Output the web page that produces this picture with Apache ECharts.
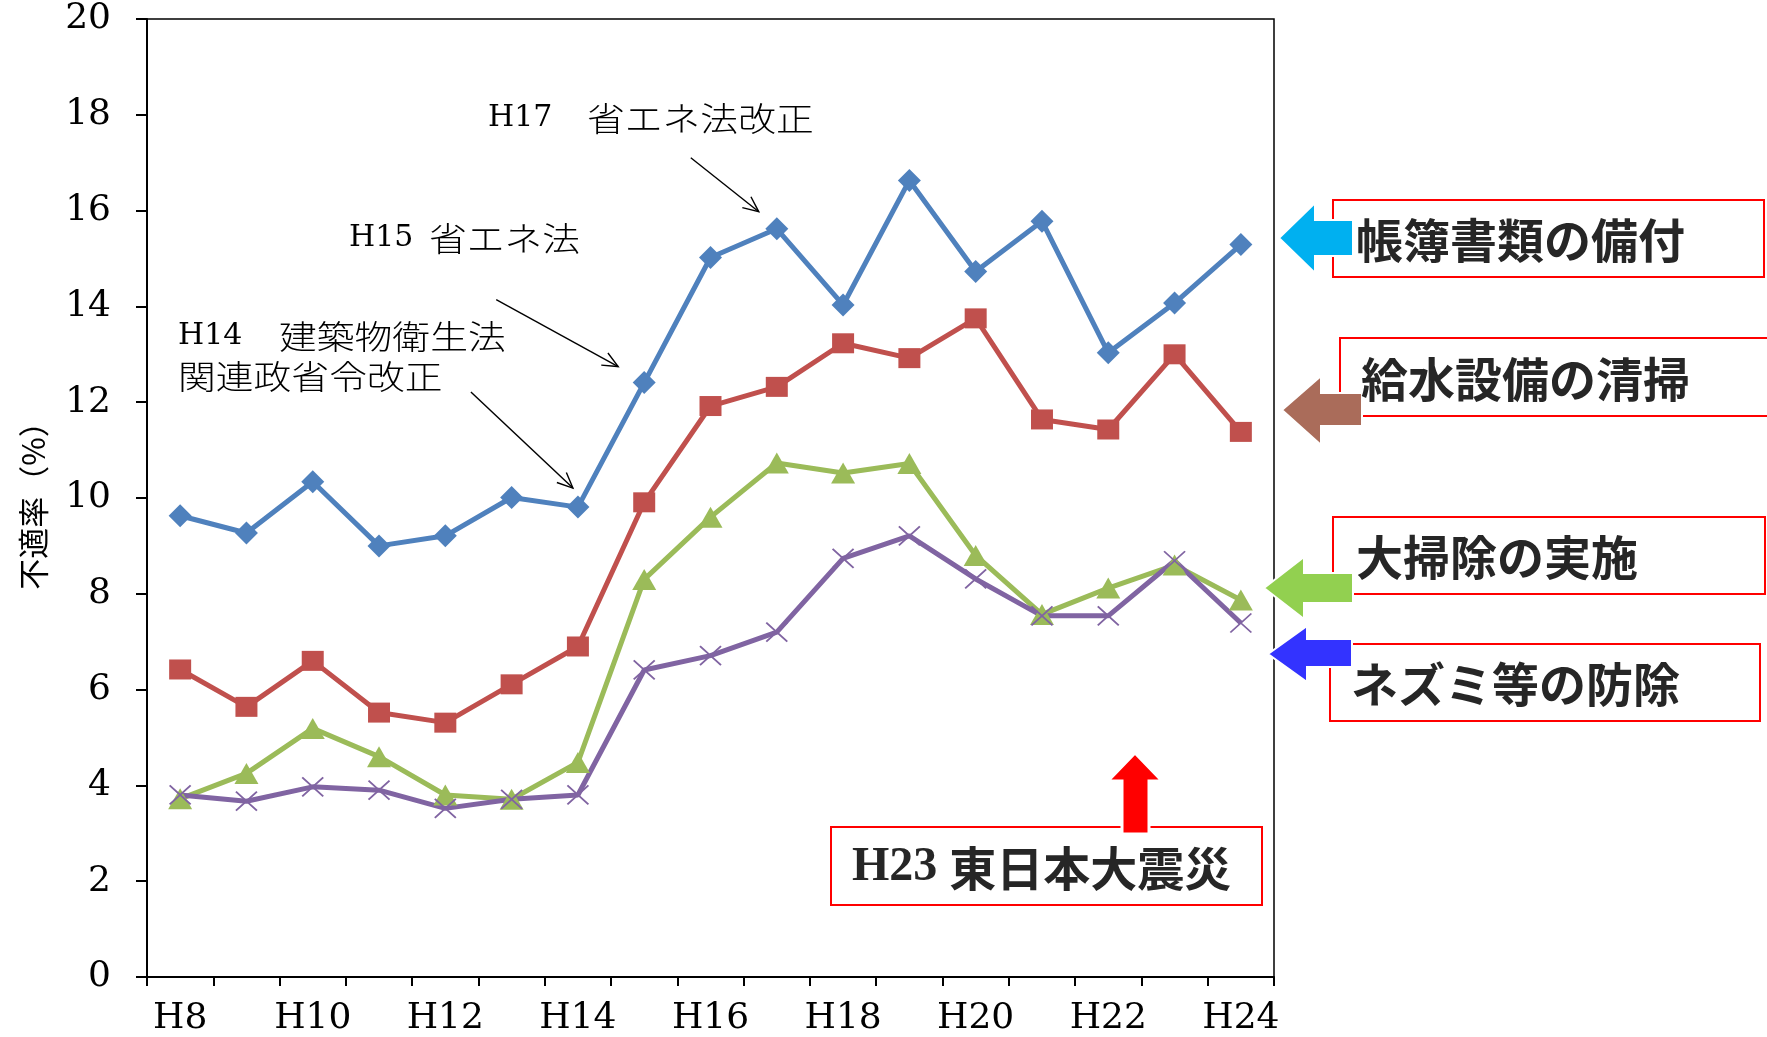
<!DOCTYPE html>
<html>
<head>
<meta charset="utf-8">
<title>不適率の推移</title>
<script src="https://cdn.jsdelivr.net/npm/echarts@6/dist/echarts.min.js"></script>
<style>
  html, body { margin: 0; padding: 0; background: #ffffff; }
  #chart { width: 1767px; height: 1037px; }
</style>
</head>
<body>
<div id="chart"></div>
<script>
// Fiscal years (Heisei)
const years = ['H8', 'H9', 'H10', 'H11', 'H12', 'H13', 'H14', 'H15', 'H16',
               'H17', 'H18', 'H19', 'H20', 'H21', 'H22', 'H23', 'H24'];

// Non-compliance rate (%) per inspection item
const ledgerRate   = [9.63, 9.27, 10.34, 9.00, 9.21, 10.01, 9.81, 12.41, 15.02,
                      15.62, 14.03, 16.63, 14.73, 15.78, 13.03, 14.07, 15.29];
const waterRate    = [6.42, 5.64, 6.60, 5.52, 5.31, 6.11, 6.90, 9.91, 11.92,
                      12.32, 13.23, 12.92, 13.75, 11.64, 11.43, 13.00, 11.38];
const cleaningRate = [3.72, 4.25, 5.19, 4.60, 3.80, 3.71, 4.48, 8.30, 9.60,
                      10.73, 10.52, 10.72, 8.80, 7.57, 8.12, 8.60, 7.87];
const pestRate     = [3.80, 3.67, 3.97, 3.90, 3.52, 3.71, 3.80, 6.41, 6.71,
                      7.20, 8.74, 9.21, 8.31, 7.54, 7.54, 8.69, 7.39];

const seriesNames = ['帳簿書類の備付', '給水設備の清掃', '大掃除の実施', 'ネズミ等の防除'];

// Value axis range
const yMin = 0;
const yMax = 20;
const yStep = 2;

const SERIF = "'DejaVu Serif', serif";
const TIMES = "'Liberation Serif', serif";
const CJK = "'Noto Sans CJK JP', sans-serif";

const crossPath = 'path://M0,0L20,20M20,0L0,20';

function lineSeries(name, data, color, symbol, size, extraItem) {
  return {
    name: name,
    type: 'line',
    data: data,
    symbol: symbol,
    symbolSize: size,
    showSymbol: true,
    lineStyle: { color: color, width: 5 },
    itemStyle: Object.assign({ color: color, borderWidth: 0 }, extraItem || {}),
    emphasis: { disabled: true },
    z: 3
  };
}

const chart = echarts.init(document.getElementById('chart'), null, { renderer: 'canvas' });

chart.setOption({
  animation: false,
  backgroundColor: '#ffffff',
  grid: {
    left: 147, right: 493, top: 19, bottom: 60,
    show: true, borderColor: '#000', borderWidth: 1.5, backgroundColor: 'transparent'
  },
  xAxis: {
    type: 'category',
    data: years,
    boundaryGap: true,
    axisLine: { show: true, lineStyle: { color: '#000', width: 2 } },
    axisTick: { show: true, interval: 0, length: 9, lineStyle: { color: '#000', width: 2 } },
    axisLabel: { interval: 1, margin: 24, color: '#000', fontFamily: SERIF, fontSize: 36 },
    splitLine: { show: false }
  },
  yAxis: {
    type: 'value',
    min: yMin, max: yMax, interval: yStep,
    name: '不適率（%）',
    nameLocation: 'middle',
    nameRotate: 90,
    nameGap: 98,
    nameTextStyle: { color: '#000', fontFamily: CJK, fontSize: 31 },
    axisLine: { show: true, lineStyle: { color: '#000', width: 2 } },
    axisTick: { show: true, length: 11, lineStyle: { color: '#000', width: 2 } },
    axisLabel: { margin: 36, color: '#000', fontFamily: SERIF, fontSize: 36 },
    splitLine: { show: false }
  },
  series: [
    lineSeries(seriesNames[0], ledgerRate, '#4F81BD', 'diamond', 23),
    lineSeries(seriesNames[1], waterRate, '#C0504D', 'rect', [22, 20]),
    lineSeries(seriesNames[2], cleaningRate, '#9BBB59', 'triangle', [24, 21]),
    lineSeries(seriesNames[3], pestRate, '#8064A2', crossPath, [21, 19],
               { borderColor: '#8064A2', borderWidth: 1.8 })
  ]
});

// ---- Law-revision callouts: text plus thin arrows pointing at the ledger line ----
const graphics = [];

function calloutText(latinX, latin, cjkX, cjk, y) {
  if (latin) {
    graphics.push({
      type: 'text', x: latinX, y: y, z: 20,
      style: { text: latin, fontFamily: SERIF, fontSize: 30, fill: '#000', verticalAlign: 'middle' }
    });
  }
  graphics.push({
    type: 'text', x: cjkX, y: y, scaleX: 1.145, z: 20,
    style: { text: cjk, fontFamily: CJK, fontSize: 33, fontWeight: 300, fill: '#000', verticalAlign: 'middle' }
  });
}

calloutText(488, 'H17', 587, '省エネ法改正', 118);
calloutText(349, 'H15', 429, '省エネ法', 238);
calloutText(178, 'H14', 279, '建築物衛生法', 336);
calloutText(0, '', 178, '関連政省令改正', 376);

const callouts = [
  { year: 'H14', tip: [-5, -19],  tail: [-107, -115] },
  { year: 'H15', tip: [-26, -16], tail: [-148, -83] },
  { year: 'H17', tip: [-18, -17], tail: [-86, -71] }
];

callouts.forEach(function (c) {
  const idx = years.indexOf(c.year);
  const p = chart.convertToPixel({ seriesIndex: 0 }, [idx, ledgerRate[idx]]);
  const tx = p[0] + c.tip[0], ty = p[1] + c.tip[1];
  const sx = p[0] + c.tail[0], sy = p[1] + c.tail[1];
  const ang = Math.atan2(ty - sy, tx - sx);
  const headLen = 17, spread = 0.42;
  graphics.push({
    type: 'line', z: 20,
    shape: { x1: sx, y1: sy, x2: tx, y2: ty },
    style: { stroke: '#000', lineWidth: 1.4 }
  });
  graphics.push({
    type: 'polyline', z: 20,
    shape: { points: [
      [tx - headLen * Math.cos(ang - spread), ty - headLen * Math.sin(ang - spread)],
      [tx, ty],
      [tx - headLen * Math.cos(ang + spread), ty - headLen * Math.sin(ang + spread)]
    ] },
    style: { stroke: '#000', lineWidth: 1.4, fill: null }
  });
});

// ---- Item labels on the right, each in a red frame with a block arrow ----
const labelBoxes = [
  { text: seriesNames[0], box: [1333, 200, 431, 77], textX: 1356, textY: 240, color: '#00B0F0',
    arrow: [[1279, 238], [1315, 203], [1315, 220], [1353, 220], [1353, 256], [1315, 256], [1315, 273]] },
  { text: seriesNames[1], box: [1340, 338, 440, 78], textX: 1361, textY: 379, color: '#AA6C5A',
    arrow: [[1282, 410], [1321, 376], [1321, 393], [1362, 393], [1362, 426], [1321, 426], [1321, 445]] },
  { text: seriesNames[2], box: [1333, 517, 432, 77], textX: 1356, textY: 557, color: '#92D050',
    arrow: [[1264, 588], [1304, 557], [1304, 573], [1353, 573], [1353, 603], [1304, 603], [1304, 619]] },
  { text: seriesNames[3], box: [1330, 644, 430, 77], textX: 1351, textY: 684, color: '#3333FF',
    arrow: [[1268, 654], [1307, 626], [1307, 639], [1352, 639], [1352, 667], [1307, 667], [1307, 682]] }
];

labelBoxes.forEach(function (b) {
  graphics.push({
    type: 'rect', z: 15,
    shape: { x: b.box[0], y: b.box[1], width: b.box[2], height: b.box[3] },
    style: { fill: '#fff', stroke: '#FF0000', lineWidth: 2 }
  });
  graphics.push({
    type: 'polygon', z: 16,
    shape: { points: b.arrow },
    style: { fill: b.color, stroke: '#fff', lineWidth: 2 }
  });
  graphics.push({
    type: 'text', x: b.textX, y: b.textY, z: 17,
    style: {
      text: b.text, fill: '#262626', fontFamily: CJK, fontWeight: 'bold', fontSize: 47,
      verticalAlign: 'middle'
    }
  });
});

// Earthquake note with an upward arrow
graphics.push({
  type: 'rect', z: 15,
  shape: { x: 831, y: 827, width: 431, height: 78 },
  style: { fill: '#fff', stroke: '#FF0000', lineWidth: 2 }
});
graphics.push({
  type: 'polygon', z: 16,
  shape: { points: [[1135, 753], [1162, 781], [1149, 781], [1149, 834], [1122, 834], [1122, 781], [1108, 781]] },
  style: { fill: '#FF0000', stroke: '#fff', lineWidth: 3 }
});
graphics.push({
  type: 'text', x: 852, y: 868, z: 17,
  style: {
    text: '{a|H23 }{b|東日本大震災}',
    rich: {
      a: { fontFamily: TIMES, fontWeight: 'bold', fontSize: 48, fill: '#262626' },
      b: { fontFamily: CJK, fontWeight: 'bold', fontSize: 47, fill: '#262626' }
    },
    verticalAlign: 'middle'
  }
});

chart.setOption({ graphic: graphics });
</script>
</body>
</html>
